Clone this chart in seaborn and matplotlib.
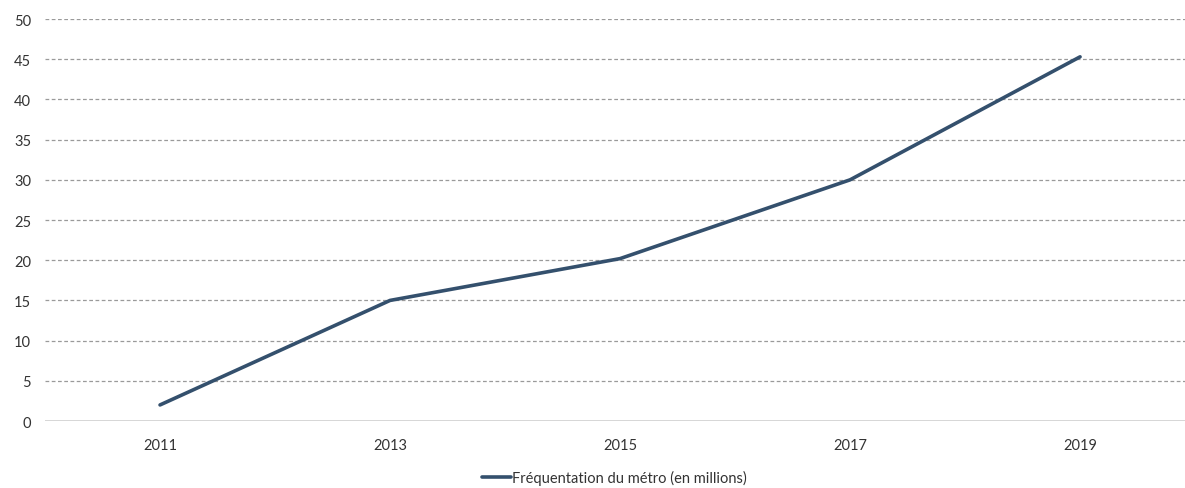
# Fréquentation du métro 2011-2019
import matplotlib.pyplot as plt
import pandas as pd
import seaborn as sns

annees = ['2011', '2013', '2015', '2017', '2019']
frequentation = [2.0, 15.0, 20.2, 30.0, 45.3]
serie = 'Fréquentation du métro (en millions)'

df = pd.DataFrame({'annee': annees, 'valeur': frequentation})

sns.set_style('white')
plt.rcParams['font.family'] = ['Lato', 'DejaVu Sans']

fig = plt.figure(figsize=(11.85, 4.89), dpi=100)
ax = fig.add_axes([0.038, 0.137, 0.9705, 0.822])

sns.lineplot(data=df, x='annee', y='valeur', ax=ax, color='#34506D',
             linewidth=2.6, label=serie, sort=False)

ax.set_xlim(-0.5, 4.5)
ax.set_ylim(0, 50)
ax.set_yticks(range(0, 51, 5))
for y in range(5, 51, 5):
    ax.axhline(y, color='#9A9A9A', linewidth=0.9, linestyle=(0, (3, 2)), zorder=0)
ax.axhline(0, color='#D0D0D0', linewidth=1.2, zorder=0)

for s in ax.spines.values():
    s.set_visible(False)
ax.tick_params(axis='both', length=0, labelsize=10.5, colors='#333333')
ax.tick_params(axis='x', pad=12)
ax.tick_params(axis='y', pad=10)
ax.set_xlabel('')
ax.set_ylabel('')

ax.legend(loc='upper center', bbox_to_anchor=(0.495, -0.09), frameon=False,
          fontsize=10.5, handlelength=2.0, handletextpad=0.1,
          labelcolor='#333333')

fig.savefig('out.png', dpi=100)
